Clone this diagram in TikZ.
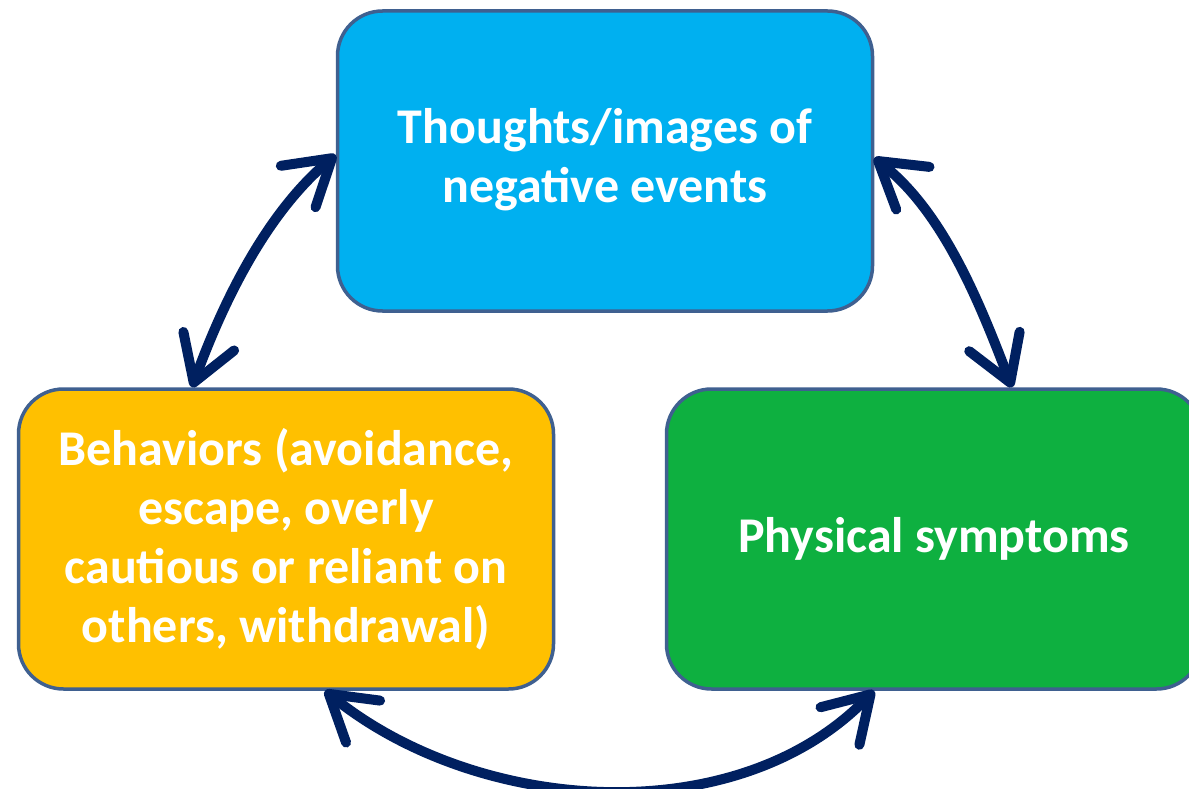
\documentclass[tikz,border=0pt]{standalone}
\usepackage{fontspec}
\setmainfont{Carlito}
\usetikzlibrary{arrows.meta,calc}
\definecolor{topfill}{HTML}{00B0F0}
\definecolor{leftfill}{HTML}{FFC000}
\definecolor{rightfill}{HTML}{0EB040}
\definecolor{boxline}{HTML}{3F6090}
\definecolor{arrowblue}{HTML}{002060}
\begin{document}
\begin{tikzpicture}[x=1pt,y=1pt,
  box/.style={draw=boxline, line width=3.5pt, rounded corners=45pt,
    minimum width=535pt, minimum height=300pt, text=white, inner sep=0pt,
    font=\fontsize{50}{59}\selectfont\bfseries, align=center},
  cyc/.style={draw=arrowblue, line width=10pt, line cap=round,
    >={Straight Barb[length=44pt,width=54pt,round]}, <->}]
\useasboundingbox (0,0) rectangle (1189,-789);
\clip (0,0) rectangle (1189,-789);
\node[box, fill=topfill] (top) at (605,-161) {\raisebox{-5pt}{\begin{tabular}{@{}c@{}}Thoughts/images of\\negative events\end{tabular}}};
\node[box, fill=leftfill] (lft) at (286,-539) {Behaviors (avoidance,\\escape, overly\\cautious or reliant on\\others, withdrawal)};
\node[box, fill=rightfill] (rgt) at (934,-539) {Physical symptoms};
\draw[cyc] ([yshift=6pt]top.west) to[out=220, in=70, looseness=0.85] ([xshift=-94pt]lft.north);
\draw[cyc] ([yshift=3pt]top.east) to[out=322, in=111, looseness=0.85] ([xshift=78pt]rgt.north);
\draw[cyc] ([xshift=39pt]lft.south) to[out=321, in=226, looseness=0.92] ([xshift=-60pt]rgt.south);
\end{tikzpicture}
\end{document}
